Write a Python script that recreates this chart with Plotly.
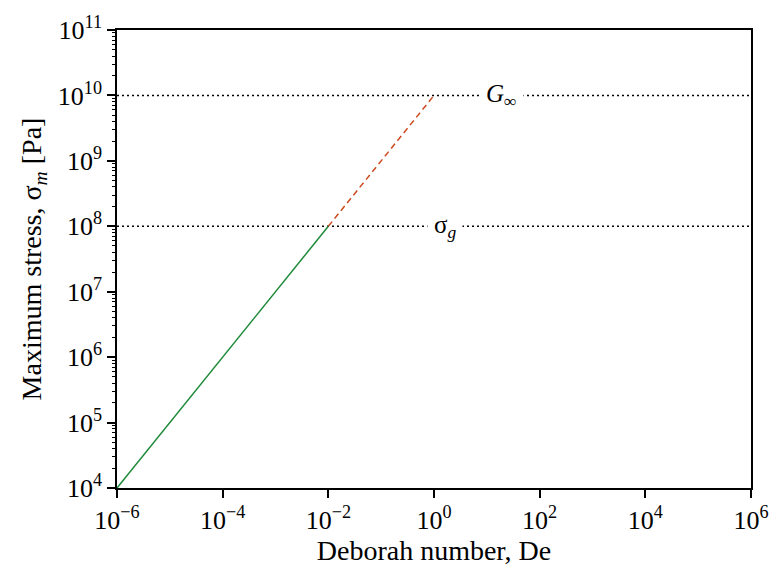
import plotly.graph_objects as go

# Data
de_solid = [1e-6, 1e-2]
stress_solid = [1e4, 1e8]
de_dashed = [1e-2, 1e0]
stress_dashed = [1e8, 1e10]
x_range_vals = [1e-6, 1e6]
G_inf = 1e10
sigma_g = 1e8
x_tick_exps = [-6, -4, -2, 0, 2, 4, 6]
y_tick_exps = [4, 5, 6, 7, 8, 9, 10, 11]
minor_mults = [2, 3, 4, 5, 6, 7, 8, 9]

def sup(e):
    s = str(e).replace("-", "−")
    return f"10<sup>{s}</sup>"

font_family = "Liberation Serif, Times New Roman, serif"

fig = go.Figure()
for lvl in [G_inf, sigma_g]:
    fig.add_trace(go.Scatter(x=x_range_vals, y=[lvl, lvl], mode="lines",
                             line=dict(color="black", width=1.5, dash="2px,3px"),
                             showlegend=False, hoverinfo="skip"))
fig.add_trace(go.Scatter(x=de_solid, y=stress_solid, mode="lines",
                         line=dict(color="#1f8a3a", width=1.5), showlegend=False))
fig.add_trace(go.Scatter(x=de_dashed, y=stress_dashed, mode="lines",
                         line=dict(color="#cc4a1e", width=1.5, dash="6px,4px"), showlegend=False))
# invisible trace for minor-tick axis
fig.add_trace(go.Scatter(x=[1e-6], y=[1e4], yaxis="y2", mode="markers",
                         marker=dict(opacity=0), showlegend=False, hoverinfo="skip"))

fig.add_annotation(x=1.28, y=10, xref="x", yref="y", text="<i>G</i><sub>∞</sub>",
                   showarrow=False, bgcolor="white", font=dict(family=font_family, size=25, color="black"),
                   borderpad=6)
fig.add_annotation(x=0.2, y=8, xref="x", yref="y", text="σ<sub><i>g</i></sub>",
                   showarrow=False, bgcolor="white", font=dict(family=font_family, size=25, color="black"),
                   borderpad=6)

minor_vals = [m * 10**e for e in y_tick_exps[:-1] for m in minor_mults]

fig.update_layout(
    width=781, height=571,
    margin=dict(l=117, r=28, t=20, b=78),
    plot_bgcolor="white", paper_bgcolor="white",
    font=dict(family=font_family, size=26, color="black"),
    xaxis=dict(type="log", range=[-6, 6], showgrid=False, zeroline=False,
               showline=True, linecolor="black", linewidth=1.5, mirror=True,
               ticks="outside", ticklen=8, tickwidth=1.5, tickcolor="black",
               tickvals=[10**e for e in x_tick_exps], ticktext=[sup(e) for e in x_tick_exps],
               tickfont=dict(family=font_family, size=26), ticklabeloverflow="allow",
               title=dict(text="Deborah number, De", font=dict(family=font_family, size=28), standoff=4)),
    yaxis=dict(type="log", range=[4, 11], showgrid=False, zeroline=False,
               showline=True, linecolor="black", linewidth=1.5, mirror=True,
               ticks="outside", ticklen=8, tickwidth=1.5, tickcolor="black",
               tickvals=[10**e for e in y_tick_exps], ticktext=[sup(e) for e in y_tick_exps],
               tickfont=dict(family=font_family, size=26), ticklabeloverflow="allow",
               title=dict(text="Maximum stress, σ<sub><i>m</i></sub> [Pa]", font=dict(family=font_family, size=28), standoff=8)),
    yaxis2=dict(type="log", range=[4, 11], overlaying="y", side="left", showgrid=False,
                zeroline=False, showline=False, ticks="outside", ticklen=4, tickwidth=1,
                tickcolor="black", tickvals=minor_vals, showticklabels=False),
)

fig.write_html("out.html")
